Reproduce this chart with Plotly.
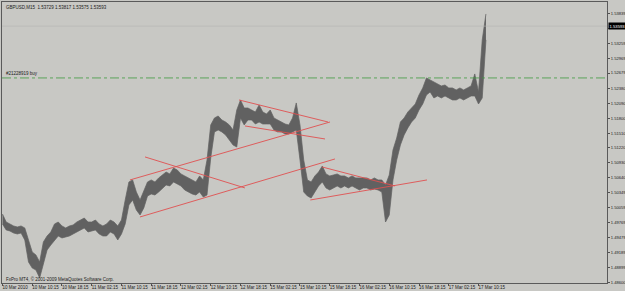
import plotly.graph_objects as go

# ---- data (GBPUSD M15, hourly high/low) ----
tick_labels = ["10 Mar 2010", "10 Mar 10:15", "10 Mar 18:15", "11 Mar 02:15", "11 Mar 10:15",
               "11 Mar 18:15", "12 Mar 02:15", "12 Mar 10:15", "12 Mar 18:15", "15 Mar 02:15",
               "15 Mar 10:15", "15 Mar 18:15", "16 Mar 02:15", "16 Mar 10:15", "16 Mar 18:15",
               "17 Mar 02:15", "17 Mar 10:15"]
tick_bars = [0, 32, 64, 96, 128, 160, 192, 224, 256, 288, 320, 352, 384, 416, 448, 480, 512]

price_ticks = [1.48600, 1.48899, 1.49189, 1.49479, 1.49769, 1.50059, 1.50349, 1.50640,
               1.50930, 1.51220, 1.51510, 1.51800, 1.52090, 1.52380, 1.52679, 1.52969,
               1.53259, 1.53549, 1.53839]

hour_bars = list(range(0, 524, 4))
highs = [1.49934, 1.49778, 1.49740, 1.49701, 1.49681, 1.49701, 1.49662, 1.49428, 1.49194, 1.49136,
         1.48999, 1.49389, 1.49506, 1.49584, 1.49740, 1.49778, 1.49701, 1.49662, 1.49701, 1.49720,
         1.49778, 1.49817, 1.49856, 1.49778, 1.49778, 1.49817, 1.49740, 1.49701, 1.49740, 1.49817,
         1.49778, 1.49701, 1.49817, 1.50207, 1.50558, 1.50597, 1.50363, 1.50207, 1.50402, 1.50558,
         1.50597, 1.50558, 1.50636, 1.50694, 1.50752, 1.50714, 1.50830, 1.50791, 1.50714, 1.50675,
         1.50636, 1.50597, 1.50558, 1.50675, 1.50597, 1.50986, 1.51668, 1.51804, 1.51843, 1.51765,
         1.51726, 1.51668, 1.51571, 1.51960, 1.52155, 1.51999, 1.51999, 1.51960, 1.51921, 1.52058,
         1.51921, 1.51882, 1.51960, 1.51804, 1.51765, 1.51726, 1.51687, 1.51668, 1.51804, 1.52097,
         1.51668, 1.50986, 1.50597, 1.50558, 1.50675, 1.50752, 1.50869, 1.50714, 1.50675, 1.50694,
         1.50714, 1.50675, 1.50675, 1.50636, 1.50675, 1.50636, 1.50636, 1.50636, 1.50636, 1.50597,
         1.50636, 1.50597, 1.50597, 1.50499, 1.50694, 1.51181, 1.51415, 1.51726, 1.51804, 1.51921,
         1.51999, 1.52077, 1.52252, 1.52389, 1.52584, 1.52545, 1.52506, 1.52467, 1.52428, 1.52447,
         1.52389, 1.52389, 1.52350, 1.52389, 1.52350, 1.52389, 1.52428, 1.52662, 1.52311, 1.53324,
         1.53830]
lows = [1.49740, 1.49623, 1.49603, 1.49564, 1.49545, 1.49564, 1.49428, 1.48999, 1.48882, 1.48843,
        1.48688, 1.48941, 1.49233, 1.49330, 1.49428, 1.49506, 1.49467, 1.49486, 1.49506, 1.49545,
        1.49584, 1.49623, 1.49662, 1.49584, 1.49603, 1.49623, 1.49545, 1.49506, 1.49506, 1.49584,
        1.49545, 1.49428, 1.49545, 1.49740, 1.50110, 1.50207, 1.50012, 1.49915, 1.50051, 1.50285,
        1.50324, 1.50304, 1.50363, 1.50441, 1.50499, 1.50480, 1.50558, 1.50519, 1.50480, 1.50402,
        1.50363, 1.50324, 1.50304, 1.50363, 1.50265, 1.50304, 1.51025, 1.51532, 1.51571, 1.51532,
        1.51473, 1.51376, 1.51278, 1.51239, 1.51804, 1.51668, 1.51765, 1.51765, 1.51687, 1.51726,
        1.51687, 1.51687, 1.51687, 1.51571, 1.51532, 1.51532, 1.51493, 1.51493, 1.51532, 1.51571,
        1.50986, 1.50363, 1.50285, 1.50246, 1.50363, 1.50480, 1.50558, 1.50441, 1.50402, 1.50441,
        1.50480, 1.50441, 1.50480, 1.50441, 1.50480, 1.50441, 1.50402, 1.50441, 1.50441, 1.50402,
        1.50421, 1.50402, 1.50363, 1.49778, 1.49915, 1.50597, 1.50986, 1.51278, 1.51473, 1.51610,
        1.51726, 1.51804, 1.51960, 1.52077, 1.52252, 1.52311, 1.52194, 1.52233, 1.52194, 1.52233,
        1.52194, 1.52155, 1.52155, 1.52194, 1.52155, 1.52194, 1.52233, 1.52233, 1.52077, 1.52194,
        1.53324]
last_close = 1.53593
buy_level = 1.52584
buy_label = "#21228919 buy"
header = "GBPUSD,M15  1.53729 1.53817 1.53575 1.53593"
footer = "FxPro MT4, \u00a9 2001-2009 MetaQuotes Software Corp."

# trendlines: (bar1, price1, bar2, price2)
trendlines = [
    (137.1, 1.50597, 352.3, 1.51726),
    (147.9, 1.49876, 357.6, 1.51006),
    (254.4, 1.52155, 350.1, 1.51726),
    (260.8, 1.51649, 346.9, 1.51395),
    (153.3, 1.51045, 260.8, 1.50441),
    (331.1, 1.50207, 456.6, 1.50597),
    (343.7, 1.50850, 422.2, 1.50480),
]

BG = "#c8c8c4"
BAR = "#616161"
FONT = "Liberation Sans"

fig = go.Figure()
fig.add_trace(go.Scatter(x=hour_bars, y=lows, mode="lines", line=dict(color=BAR, width=0.7),
                         hoverinfo="skip", showlegend=False))
fig.add_trace(go.Scatter(x=hour_bars, y=highs, mode="lines", line=dict(color=BAR, width=0.7),
                         fill="tonexty", fillcolor=BAR, hoverinfo="skip", showlegend=False))

for b1, p1, b2, p2 in trendlines:
    fig.add_trace(go.Scatter(x=[b1, b2], y=[p1, p2], mode="lines",
                             line=dict(color="#e05050", width=0.9), hoverinfo="skip", showlegend=False))

fig.add_hline(y=buy_level, line=dict(color="#3f9a3f", width=0.8, dash="dashdot"))
fig.add_hline(y=last_close, line=dict(color="#b4b4b0", width=0.6))

fig.add_annotation(text=buy_label, xref="paper", yref="y", x=0.004, y=buy_level, xanchor="left",
                   yanchor="bottom", showarrow=False, font=dict(family=FONT, size=4.5, color="#202020"))
fig.add_annotation(text=header, xref="paper", yref="paper", x=0.004, y=0.998, xanchor="left",
                   yanchor="top", showarrow=False, font=dict(family=FONT, size=4.5, color="#202020"))
fig.add_annotation(text=footer, xref="paper", yref="paper", x=0.003, y=0.014, xanchor="left",
                   yanchor="middle", showarrow=False, font=dict(family=FONT, size=4.5, color="#202020"))
fig.add_annotation(text=f"{last_close:.5f}", xref="paper", yref="y", x=1.0, y=last_close,
                   xanchor="left", yanchor="middle", showarrow=False, bgcolor="#000000", borderpad=0.5,
                   xshift=1, font=dict(family=FONT, size=4.2, color="#ffffff"))

# the price box hides the tick label under it, as in the original
y_ticktext = ["" if abs(v - last_close) < 0.0008 else f"{v:.5f}" for v in price_ticks]

fig.update_layout(
    width=625, height=291, margin=dict(l=2, r=18, t=2, b=8, autoexpand=False),
    paper_bgcolor=BG, plot_bgcolor=BG, showlegend=False,
    xaxis=dict(range=[-0.5, 650.2], tickvals=tick_bars, ticktext=tick_labels, ticks="outside",
               ticklen=2, tickcolor="#505050", showline=True, linecolor="#5a5a5a", linewidth=1,
               mirror=True, showgrid=False, zeroline=False, ticklabelposition="outside right",
               tickangle=0, automargin=False, ticklabelshift=-1,
               tickfont=dict(family=FONT, size=4.5, color="#202020")),
    yaxis=dict(side="right", range=[1.48590, 1.54063], tickvals=price_ticks,
               ticktext=y_ticktext, ticks="outside", ticklen=2, ticklabelstandoff=0,
               tickcolor="#505050", showline=True, linecolor="#5a5a5a", linewidth=1, mirror=True,
               showgrid=False, zeroline=False, automargin=False,
               tickfont=dict(family=FONT, size=4.1, color="#202020")),
)

fig.write_html("out.html")
